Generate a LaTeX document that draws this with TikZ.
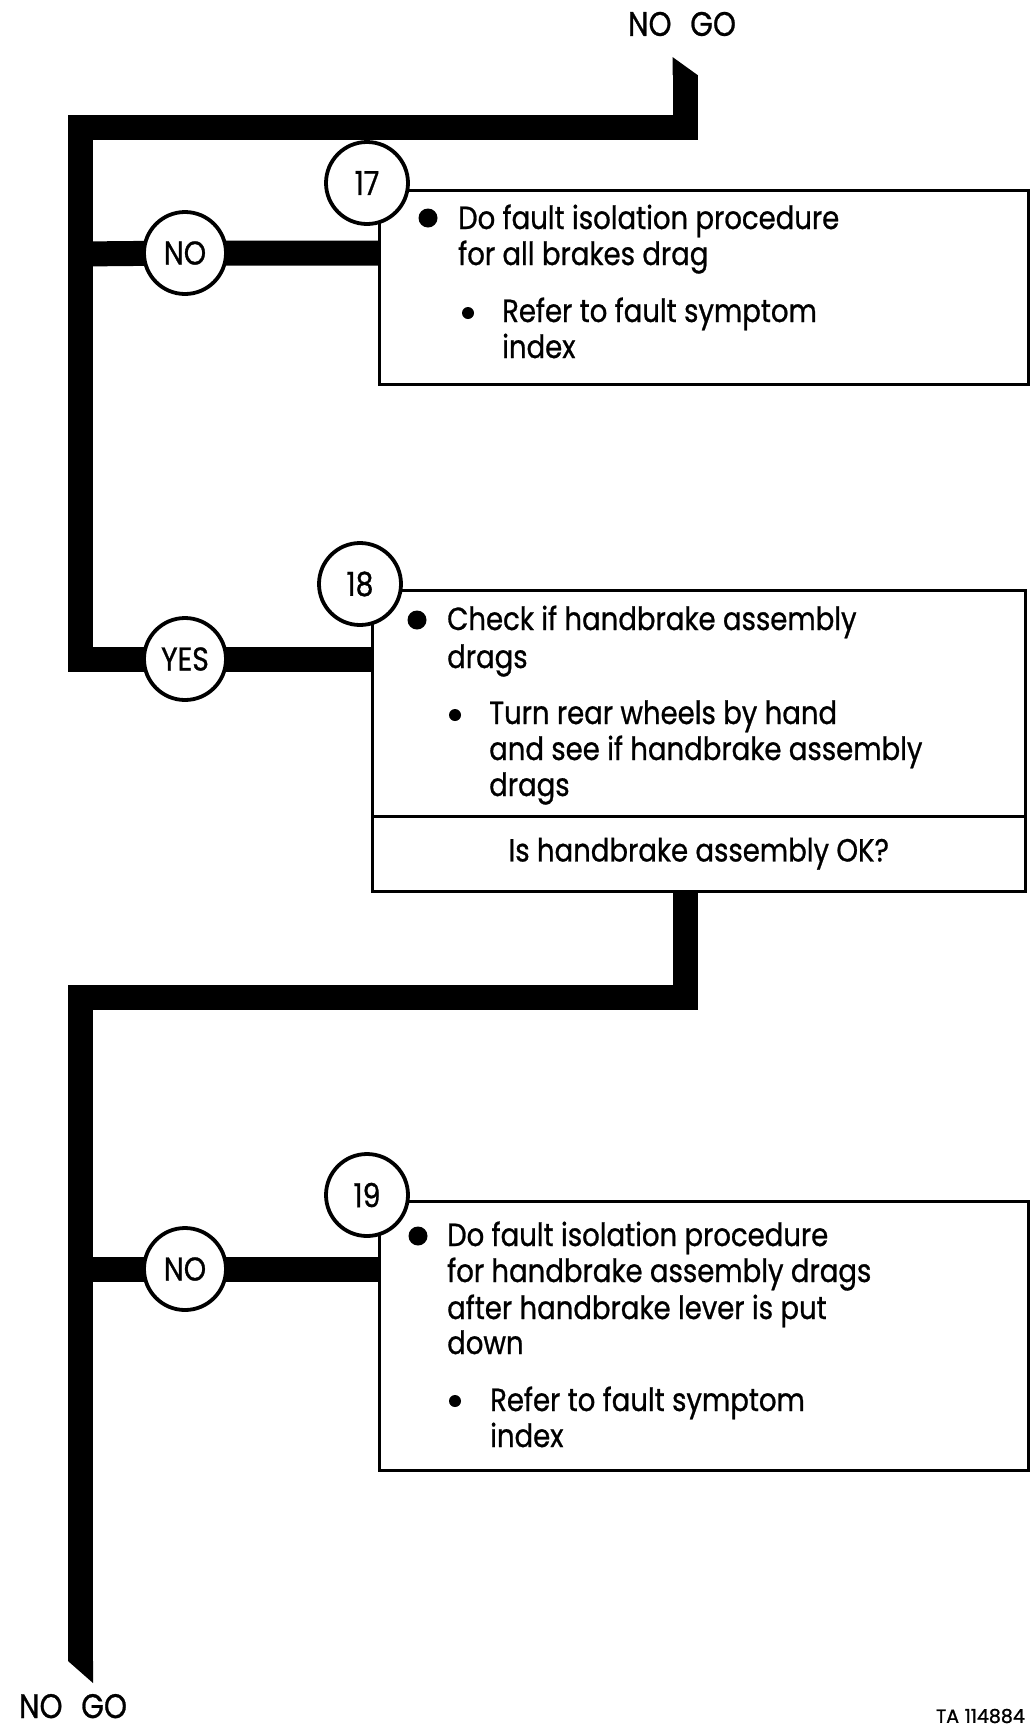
\documentclass[tikz,border=0pt]{standalone}
\usepackage{fontspec}
\setmainfont{Poppins}[FakeStretch=0.86, FakeBold=0.8]
\newfontfamily\plainfont{Poppins}[FakeBold=1.2]
\pgfdeclarelayer{bg}
\pgfsetlayers{bg,main}
\begin{document}
\begin{tikzpicture}[x=1pt,y=-1pt,
  flow/.style={line width=25pt, line join=miter, line cap=butt},
  numcirc/.style={circle, draw, line width=3.8pt, fill=white, minimum size=82pt, inner sep=0pt, font=\fontsize{33}{36}\selectfont},
  box/.style={draw, line width=2.5pt, inner sep=0pt},
  txt/.style={anchor=base west, inner sep=0pt, font=\fontsize{32}{36}\selectfont},
  bigdot/.style={circle, fill, inner sep=0pt, minimum size=19pt},
  smalldot/.style={circle, fill, inner sep=0pt, minimum size=12pt},
  lbl/.style={inner sep=0pt, font=\fontsize{34}{38}\selectfont},
]
\useasboundingbox (0,0) rectangle (1034,1730);

% boxes
\node[box, minimum width=649pt, minimum height=194pt, anchor=north west] (b17) at (378,189) {};
\node[box, minimum width=653pt, minimum height=226pt, anchor=north west] (b18) at (371,589) {};
\node[box, minimum width=653pt, minimum height=75pt, anchor=north west, font=\fontsize{32}{36}\selectfont] (q18) at (371,815) {Is handbrake assembly OK?};
\node[box, minimum width=649pt, minimum height=269pt, anchor=north west] (b19) at (378,1200) {};

% circles
\node[numcirc] (n17) at (367,183) {17};
\node[numcirc] (n18) at (360,584) {18};
\node[numcirc] (n19) at (367,1195) {19};
\node[numcirc] (no1) at (185,253) {NO};
\node[numcirc] (yes) at (185,659) {YES};
\node[numcirc] (no2) at (185,1269) {NO};

% end labels
\node[lbl] (nogotop) at (682,24) {NO\hspace{0.55em}GO};
\node[lbl, anchor=base] (nogobot) at (73,1718) {NO\hspace{0.55em}GO};
\node[inner sep=0pt, anchor=east, font=\plainfont\fontsize{19}{22}\selectfont] (ta) at (1025,1716) {TA\hspace{0.3em}114884};

\coordinate (topend) at (685,75);
\coordinate (botend) at (80.5,1661);
\coordinate (j1) at (80.5,127);
\coordinate (j2) at (80.5,997);

\begin{pgfonlayer}{bg}
  \draw[flow] (topend) -- (685,127) -- (j1) -- (80.5,659) -- (yes.center) -- (yes.center -| b18.west);
  \fill (672.5,57) -- (697.5,75) -- (672.5,75) -- cycle;
  \draw[flow] (80.5,254) -- (no1.center) -- (no1.center -| b17.west);
  \draw[flow] (q18.south -| 685,0) -- (685,997) -- (j2) -- (botend);
  \fill (68,1661) -- (93,1661) -- (93,1683) -- cycle;
  \draw[flow] (80.5,1269) -- (no2.center) -- (no2.center -| b19.west);
\end{pgfonlayer}

% box 17 text
\node[bigdot] (d17a) at (428,218) {};
\node[txt] (t17a) at (458,229) {Do fault isolation procedure};
\node[txt] (t17b) at (458,265) {for all brakes drag};
\node[smalldot] (d17b) at (468,313) {};
\node[txt] (t17c) at (502,322) {Refer to fault symptom};
\node[txt] (t17d) at (502,358) {index};

% box 18 text
\node[bigdot] (d18a) at (417,620) {};
\node[txt] (t18a) at (447,630) {Check if handbrake assembly};
\node[txt] (t18b) at (447,668) {drags};
\node[smalldot] (d18b) at (455,715) {};
\node[txt] (t18c) at (489,724) {Turn rear wheels by hand};
\node[txt] (t18d) at (489,760) {and see if handbrake assembly};
\node[txt] (t18e) at (489,796) {drags};

% box 19 text
\node[bigdot] (d19a) at (418,1236) {};
\node[txt] (t19a) at (447,1246) {Do fault isolation procedure};
\node[txt] (t19b) at (447,1282) {for handbrake assembly drags};
\node[txt] (t19c) at (447,1319) {after handbrake lever is put};
\node[txt] (t19d) at (447,1354) {down};
\node[smalldot] (d19b) at (455,1401) {};
\node[txt] (t19e) at (490,1411) {Refer to fault symptom};
\node[txt] (t19f) at (490,1447) {index};
\end{tikzpicture}
\end{document}
